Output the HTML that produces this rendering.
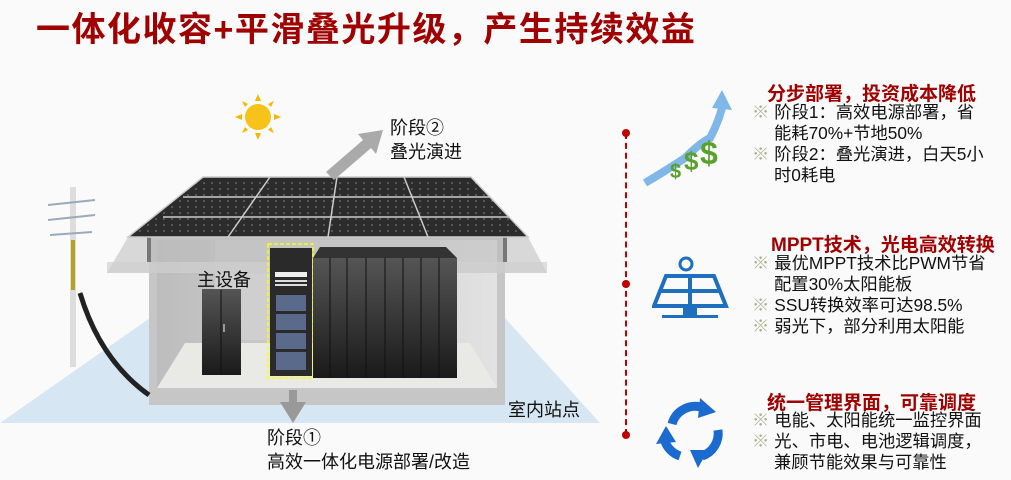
<!DOCTYPE html>
<html><head><meta charset="utf-8"><style>
body{margin:0;width:1011px;height:480px;background:#fafafa;position:relative;overflow:hidden;font-family:"Liberation Sans","Noto Sans CJK SC",sans-serif}
.a{position:absolute;white-space:nowrap}
.t{left:36px;top:2px;font-size:34px;font-weight:bold;color:#a00000;letter-spacing:1.5px}
.h{font-size:19px;font-weight:bold;color:#a00000}
.b{font-size:17.3px;color:#111;line-height:21px}
.m{color:#a8b090;margin-right:5px}
.lbl{font-size:18px;color:#111;line-height:24px}
</style></head><body>
<div class="a t">一体化收容+平滑叠光升级，产生持续效益</div>

<svg class="a" style="left:0;top:0" width="620" height="480">
<defs>
<linearGradient id="cab" x1="0" y1="0" x2="0" y2="1"><stop offset="0" stop-color="#555"/><stop offset="1" stop-color="#1a1a1a"/></linearGradient>
<linearGradient id="wall" x1="0" y1="0" x2="1" y2="0"><stop offset="0" stop-color="#bdbdbd"/><stop offset="1" stop-color="#e2e2e2"/></linearGradient>
<pattern id="cell" width="8" height="6" patternUnits="userSpaceOnUse"><rect width="8" height="6" fill="#2c2c2c"/><circle cx="4" cy="3" r="0.8" fill="#888"/></pattern>
</defs>
<polygon points="150,318 505,318 600,423 0,423" fill="#d6e6f3"/>
<rect x="149" y="237" width="356" height="168" fill="#c6c6c6"/>
<rect x="157" y="240" width="340" height="148" fill="url(#wall)"/>
<rect x="215" y="240" width="225" height="100" fill="#cfcfcf"/>
<polygon points="157,388 497,388 470,343 185,343" fill="#e9e9e6"/>
<polygon points="128,237 528,237 547,273 107,273" fill="#bbb" opacity="0.55"/>
<rect x="107" y="262" width="440" height="11" fill="#d0d0d0" opacity="0.7"/>
<rect x="147" y="237" width="4" height="25" fill="#777"/><rect x="503" y="237" width="4" height="25" fill="#777"/>
<polygon points="203,177 471,177 528,237 128,237" fill="url(#cell)"/>
<g stroke="#ccc" stroke-width="1.5" fill="none">
<polygon points="203,177 471,177 528,237 128,237"/>
<line x1="270" y1="177" x2="228" y2="237"/><line x1="337" y1="177" x2="328" y2="237"/><line x1="404" y1="177" x2="428" y2="237"/>
<line x1="183" y1="197" x2="490" y2="197"/><line x1="163" y1="217" x2="509" y2="217"/>
</g>
<g fill="#f5b800"><circle cx="258" cy="117" r="13" fill="#f7c21a"/>
<polygon points="258,94 255,101 261,101"/><polygon points="258,140 255,133 261,133"/><polygon points="235,117 242,114 242,120"/><polygon points="281,117 274,114 274,120"/>
<polygon points="242,101 248,104 245,107"/><polygon points="274,101 268,104 271,107"/><polygon points="242,133 248,130 245,127"/><polygon points="274,133 268,130 271,127"/></g>
<polygon points="326,172 363,140 358,134 383,130 376,154 371,148 334,180" fill="#aaa"/>
<rect x="70" y="187" width="6" height="180" fill="#ddd"/><rect x="71" y="240" width="4" height="50" fill="#b8a020"/>
<path d="M48,205 L95,200 M48,220 L95,215 M50,235 L92,232" stroke="#9ab" stroke-width="2"/>
<path d="M80,293 Q100,360 149,395" stroke="#222" stroke-width="5" fill="none"/>
<rect x="202" y="289" width="39" height="86" fill="url(#cab)"/><line x1="221" y1="290" x2="221" y2="375" stroke="#111"/>
<rect x="223" y="324" width="2" height="8" fill="#999"/>
<rect x="270" y="248" width="42" height="128" fill="#2a2a2a"/>
<rect x="275" y="272" width="32" height="5" fill="#eee"/><rect x="275" y="280" width="32" height="2" fill="#ddd"/><rect x="275" y="284" width="32" height="2" fill="#ddd"/>
<g fill="#5a6a8a"><rect x="276" y="295" width="30" height="16"/><rect x="276" y="314" width="30" height="16"/><rect x="276" y="333" width="30" height="16"/><rect x="276" y="352" width="30" height="18"/></g>
<rect x="268" y="244" width="45" height="134" fill="none" stroke="#ff0" stroke-width="1.5" stroke-dasharray="4,2"/>
<polygon points="320,247 446,247 457,258 313,258" fill="#333"/>
<rect x="313" y="258" width="144" height="120" fill="url(#cab)"/>
<g stroke="#111"><line x1="330" y1="258" x2="330" y2="378"/><line x1="347" y1="258" x2="347" y2="378"/><line x1="366" y1="258" x2="366" y2="378"/><line x1="385" y1="258" x2="385" y2="378"/><line x1="403" y1="258" x2="403" y2="378"/><line x1="421" y1="258" x2="421" y2="378"/><line x1="439" y1="258" x2="439" y2="378"/></g>
<polygon points="289,390 297,390 297,402 306,402 293,423 280,402 289,402" fill="#999"/>
</svg>
<div class="a lbl" style="left:197px;top:268px">主设备</div>
<div class="a lbl" style="left:390px;top:116px">阶段②<br>叠光演进</div>
<div class="a lbl" style="left:267px;top:426px">阶段①<br>高效一体化电源部署/改造</div>
<div class="a lbl" style="left:508px;top:398px">室内站点</div>

<div class="a" style="left:625px;top:133px;height:302px;border-left:2px dashed #c00000"></div>
<div class="a" style="left:622px;top:129px;width:8px;height:8px;border-radius:50%;background:#c00000"></div>
<div class="a" style="left:622px;top:280px;width:8px;height:8px;border-radius:50%;background:#c00000"></div>
<div class="a" style="left:622px;top:431px;width:8px;height:8px;border-radius:50%;background:#c00000"></div>

<svg class="a" style="left:640px;top:88px" width="95" height="100">
<path d="M5,95 Q30,80 45,70 Q60,55 70,50 Q78,35 82,20" stroke="#7fb8e8" stroke-width="8" fill="none"/>
<polygon points="82,2 92,22 72,20" fill="#7fb8e8"/>
<g font-family="Liberation Sans" font-weight="bold" fill="#5aa02c"><text x="30" y="90" font-size="20">$</text><text x="44" y="82" font-size="26">$</text><text x="60" y="76" font-size="32">$</text></g>
</svg>
<svg class="a" style="left:652px;top:256px" width="80" height="68" fill="#1f6fbf">
<circle cx="34" cy="8" r="6" fill="none" stroke="#1f6fbf" stroke-width="3"/>
<polygon points="14,20 62,20 74,50 2,50" fill="none" stroke="#1f6fbf" stroke-width="4"/>
<line x1="38" y1="20" x2="38" y2="50" stroke="#1f6fbf" stroke-width="4"/><line x1="8" y1="35" x2="68" y2="35" stroke="#1f6fbf" stroke-width="4"/>
<rect x="31" y="52" width="14" height="7"/><rect x="10" y="59" width="56" height="3"/>
</svg>
<svg class="a" style="left:654px;top:394px" width="74" height="76">
<g fill="none" stroke="#1a6ad0" stroke-width="9">
<path d="M18,30 A24,24 0 0 1 50,14"/>
<path d="M64,36 A24,24 0 0 1 48,62"/>
<path d="M26,62 A24,24 0 0 1 10,44"/>
</g>
<g fill="#1a6ad0">
<polygon points="46,4 62,18 44,24"/>
<polygon points="54,56 44,74 36,56"/>
<polygon points="2,50 12,32 22,48"/>
</g>
</svg>

<div class="a h" style="left:767px;top:79px">分步部署，投资成本降低</div>
<div class="a b" style="left:752px;top:102px"><span class="m">※</span>阶段1：高效电源部署，省<br><span style="margin-left:22px">能耗70%+节地50%</span><br><span class="m">※</span>阶段2：叠光演进，白天5小<br><span style="margin-left:22px">时0耗电</span></div>
<div class="a h" style="left:771px;top:230px">MPPT技术，光电高效转换</div>
<div class="a b" style="left:752px;top:253px"><span class="m">※</span>最优MPPT技术比PWM节省<br><span style="margin-left:22px">配置30%太阳能板</span><br><span class="m">※</span>SSU转换效率可达98.5%<br><span class="m">※</span>弱光下，部分利用太阳能</div>
<div class="a h" style="left:767px;top:388px">统一管理界面，可靠调度</div>
<div class="a b" style="left:752px;top:410px"><span class="m">※</span>电能、太阳能统一监控界面<br><span class="m">※</span>光、市电、电池逻辑调度，<br><span style="margin-left:22px">兼顾节能效果与可靠性</span></div>
</body></html>
